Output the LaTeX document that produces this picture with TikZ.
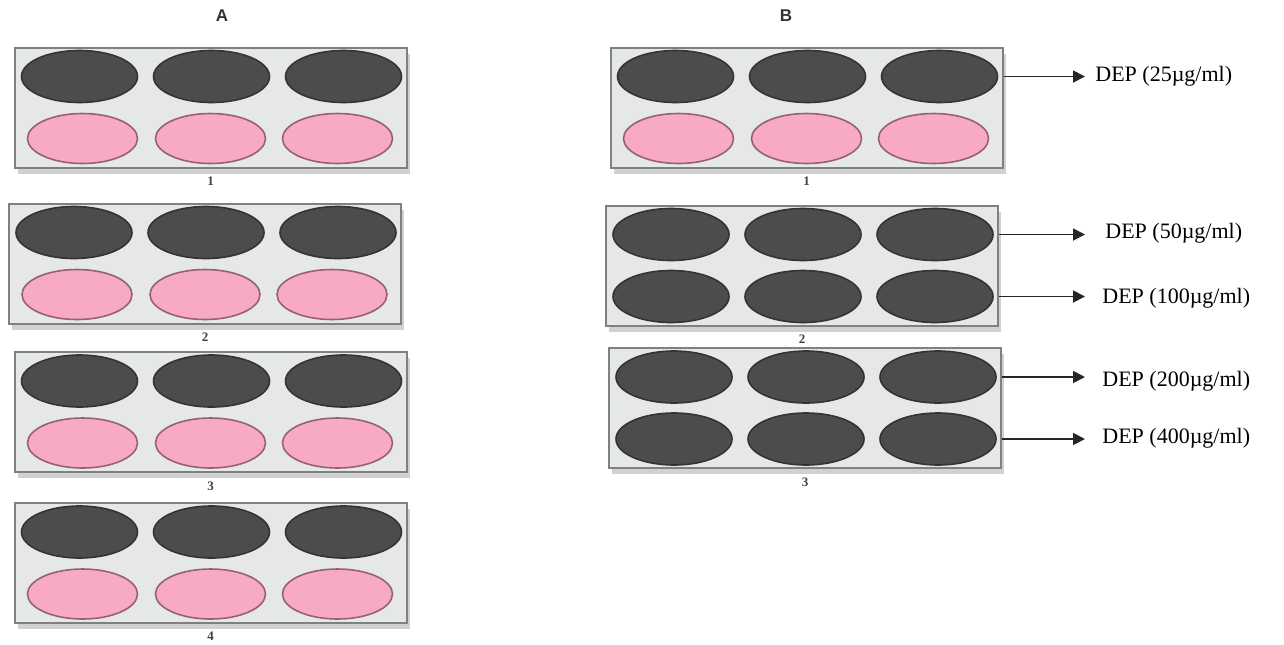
\documentclass[tikz,border=0pt]{standalone}
\usepackage{fontspec}
\setmainfont{Liberation Serif}
\setsansfont{Liberation Sans}
\usepackage{tikz}
\usetikzlibrary{calc,arrows.meta,positioning,shapes.geometric,shadows}
\definecolor{platefill}{RGB}{230,231,231}
\definecolor{plateedge}{RGB}{125,128,135}
\definecolor{welldark}{RGB}{76,76,76}
\definecolor{welldarkedge}{RGB}{52,52,52}
\definecolor{wellpink}{RGB}{248,170,196}
\definecolor{wellpinkedge}{RGB}{150,98,115}
\tikzset{
  plate/.style={rectangle, draw=plateedge, fill=platefill, line width=1pt,
                minimum width=196pt, minimum height=60pt, inner sep=0pt,
                drop shadow={shadow xshift=1.5pt, shadow yshift=-3pt,
                             fill=black, opacity=0.18}},
  dwell/.style={ellipse, draw=welldarkedge, fill=welldark, line width=0.8pt,
                minimum width=58pt, minimum height=26pt, inner sep=0pt},
  pwell/.style={ellipse, draw=wellpinkedge, fill=wellpink, line width=0.8pt,
                minimum width=55pt, minimum height=25pt, inner sep=0pt},
  platenum/.style={font=\bfseries\fontsize{6.5}{7}\selectfont, text=black!75, inner sep=1pt},
  panel/.style={font=\sffamily\bfseries\fontsize{8.5}{9}\selectfont, text=black!80},
  dose/.style={font=\fontsize{11}{13}\selectfont, anchor=west, inner sep=1pt, inner xsep=5pt},
  doselink/.style={-{Triangle[length=6pt,width=6pt]}, line width=0.9pt, black!85},
}
\begin{document}
\begin{tikzpicture}[x=0.5pt, y=-0.5pt]
\useasboundingbox (0,0) rectangle (1284,644);
% panel A
\node[panel] (titleA) at (222,16) {A};
\node[plate] (pA1) at (210.5,107.5) {};
\node[plate] (pA2) at (205,263.5) {};
\node[plate] (pA3) at (210.5,412) {};
\node[plate] (pA4) at (210.5,563) {};
% panel B
\node[panel] (titleB) at (786,16) {B};
\node[plate] (pB1) at (806.5,107.5) {};
\node[plate] (pB2) at (802,265.5) {};
\node[plate] (pB3) at (805,408) {};
% wells
\foreach \p in {pA1,pA2,pA3,pA4,pB1,pB2,pB3}
  \foreach \dx [count=\i] in {-131,1,133}
    \node[dwell] (\p t\i) at ($(\p.center)+(\dx,-31)$) {};
\foreach \p in {pA1,pA2,pA3,pA4,pB1}
  \foreach \dx [count=\i] in {-128,0,127}
    \node[pwell] (\p b\i) at ($(\p.center)+(\dx,31)$) {};
\foreach \p in {pB2,pB3}
  \foreach \dx [count=\i] in {-131,1,133}
    \node[dwell] (\p b\i) at ($(\p.center)+(\dx,31)$) {};
% plate numbers
\node[platenum, below=3pt of pA1] (nA1) {1};
\node[platenum, below=3pt of pA2] (nA2) {2};
\node[platenum, below=3pt of pA3] (nA3) {3};
\node[platenum, below=3pt of pA4] (nA4) {4};
\node[platenum, below=3pt of pB1] (nB1) {1};
\node[platenum, below=3pt of pB2] (nB2) {2};
\node[platenum, below=3pt of pB3] (nB3) {3};
% doses
\node[dose] (dB1t) at (1085,76) {DEP (25µg/ml)};
\node[dose] (dB2t) at (1095,233) {DEP (50µg/ml)};
\node[dose] (dB2b) at (1092,298) {DEP (100µg/ml)};
\node[dose] (dB3t) at (1092,381) {DEP (200µg/ml)};
\node[dose] (dB3b) at (1092,438) {DEP (400µg/ml)};
\draw[doselink] (pB1.east |- pB1t3) -- (dB1t.west |- pB1t3);
\draw[doselink] (pB2.east |- pB2t3) -- (dB1t.west |- pB2t3);
\draw[doselink] (pB2.east |- pB2b3) -- (dB1t.west |- pB2b3);
\draw[doselink] (pB3.east |- pB3t3) -- (dB1t.west |- pB3t3);
\draw[doselink] (pB3.east |- pB3b3) -- (dB1t.west |- pB3b3);
\end{tikzpicture}
\end{document}
